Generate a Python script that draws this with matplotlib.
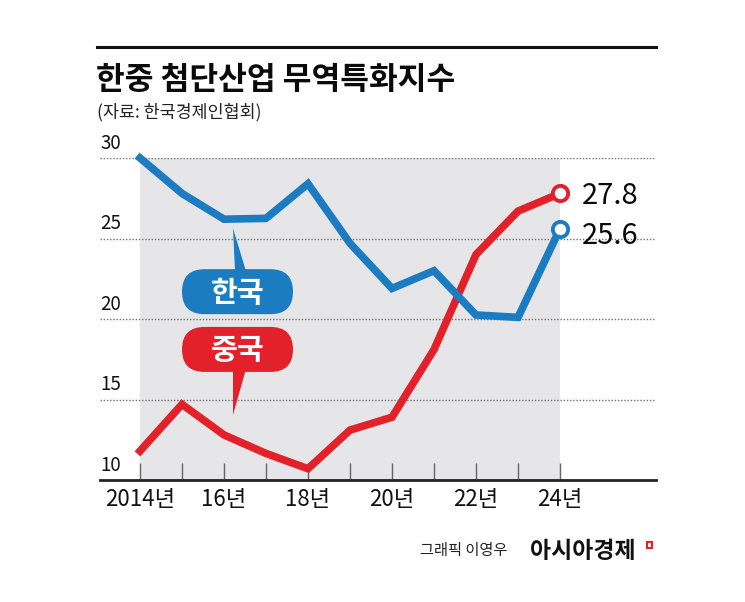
import numpy as np
import matplotlib
matplotlib.use("Agg")
import matplotlib.pyplot as plt
from matplotlib.patches import FancyBboxPatch, Polygon, Rectangle
from matplotlib.transforms import Affine2D, ScaledTranslation, blended_transform_factory

plt.rcParams['font.family'] = ['Noto Sans CJK KR', 'DejaVu Sans']

years = [2014, 2015, 2016, 2017, 2018, 2019, 2020, 2021, 2022, 2023, 2024]
korea = [30.0, 27.8, 26.2, 26.25, 28.4, 24.7, 21.9, 23.0, 20.25, 20.1, 25.6]
china = [11.8, 14.7, 12.8, 11.65, 10.7, 13.1, 13.9, 18.1, 24.0, 26.7, 27.8]
xlabels = ['2014년', '', '16년', '', '18년', '', '20년', '', '22년', '', '24년']
ygrid = [15, 20, 25, 30]
ylabels = [10, 15, 20, 25, 30]

blue = '#1b7cc2'
red = '#e3212b'
shade = '#e6e6e9'

W, H = 745, 602
fig = plt.figure(figsize=(W / 100, H / 100), dpi=100)
ax = fig.add_axes([100 / W, (H - 480) / H, 556 / W, 322 / H])
ax.set_xlim(2014 - 40 / 42, 2014 + 516 / 42)
ax.set_ylim(10, 30)

# shaded data range
ax.fill_between([years[0], years[-1]], 10, 30, color=shade, lw=0, zorder=0)
for g in ygrid:
    ax.axhline(g, color='#707070', lw=1, ls=(0, (1, 1.3)), zorder=1)

ax.plot(years, china, color=red, lw=5.5, solid_joinstyle='miter', clip_on=False, zorder=3)
ax.plot(years, korea, color=blue, lw=5.5, solid_joinstyle='miter', clip_on=False, zorder=4)
ax.plot(years[-1], china[-1], 'o', ms=11, mfc='white', mec=red, mew=2.8, zorder=5, clip_on=False)
ax.plot(years[-1], korea[-1], 'o', ms=11, mfc='white', mec=blue, mew=2.8, zorder=5, clip_on=False)

ax.annotate(f'{china[-1]:.1f}', (years[-1], china[-1]), xytext=(16, -2), textcoords='offset points',
            fontsize=21, fontweight='medium', va='center', ha='left', color='#0a0a0a')
ax.annotate(f'{korea[-1]:.1f}', (years[-1], korea[-1]), xytext=(16, -5), textcoords='offset points',
            fontsize=21, fontweight='medium', va='center', ha='left', color='#0a0a0a')

for s in ['top', 'right', 'left']:
    ax.spines[s].set_visible(False)
ax.spines['bottom'].set_linewidth(2)
ax.spines['bottom'].set_color('#222222')
ax.set_xticks(years)
ax.set_xticklabels(xlabels)
ax.tick_params(axis='x', direction='in', length=12, width=1, color='#666666', pad=6,
               labelsize=16, labelcolor='#111111')
ax.set_yticks([])

ytr = blended_transform_factory(ax.transAxes, ax.transData)
for v in ylabels:
    ax.annotate(str(v), (0, v), xycoords=ytr, xytext=(0, 3), textcoords='offset points',
                fontsize=13.5, ha='left', va='bottom', color='#111111')


# speech-bubble labels, drawn in pixel offsets from a data point
def px_trans(x, y):
    return Affine2D().scale(0.01) + fig.dpi_scale_trans + ScaledTranslation(x, y, ax.transData)


def bubble(x, y, text, color, box, tail):
    tr = px_trans(x, y)
    x0, y0, w, h = box
    ax.add_patch(FancyBboxPatch((x0, y0), w, h, boxstyle=f'round,pad=0,rounding_size={h / 2}',
                                fc=color, ec='none', transform=tr, zorder=6, clip_on=False))
    ax.add_patch(Polygon(tail, closed=True, fc=color, ec='none', transform=tr, zorder=6, clip_on=False))
    ax.text(x0 + w / 2, y0 + h / 2 - 1, text, transform=tr, ha='center', va='center',
            color='white', fontsize=21, fontweight='bold', zorder=7)


bubble(years[2], korea[2], '한국', blue, (-42, -95, 111, 45),
       [(9, -9), (11, -52), (22, -52)])
bubble(years[2], china[2], '중국', red, (-42, 63, 111, 45),
       [(9, 20), (9, 66), (22, 66)])

# title block
fig.add_artist(plt.Line2D([97 / W, 656 / W], [1 - 47 / H, 1 - 47 / H], color='#111111', lw=2.2))
fig.text(96 / W, 1 - 80 / H, '한중 첨단산업 무역특화지수', fontsize=22.5, fontweight='bold',
         va='center', ha='left', color='#0a0a0a')
fig.text(97 / W, 1 - 112 / H, '(자료: 한국경제인협회)', fontsize=12.5, va='center', ha='left',
         color='#222222')

# credit
fig.text(420 / W, 1 - 551 / H, '그래픽 이영우', fontsize=11, va='center', ha='left', color='#222222')
fig.text(530 / W, 1 - 551 / H, '아시아경제', fontsize=16.5, fontweight='bold', va='center', ha='left',
         color='#111111')
fig.add_artist(Rectangle((647 / W, 1 - 548 / H), 5 / W, 6 / H, fill=False, ec=red, lw=1.5))

fig.savefig('out.png', dpi=100)
